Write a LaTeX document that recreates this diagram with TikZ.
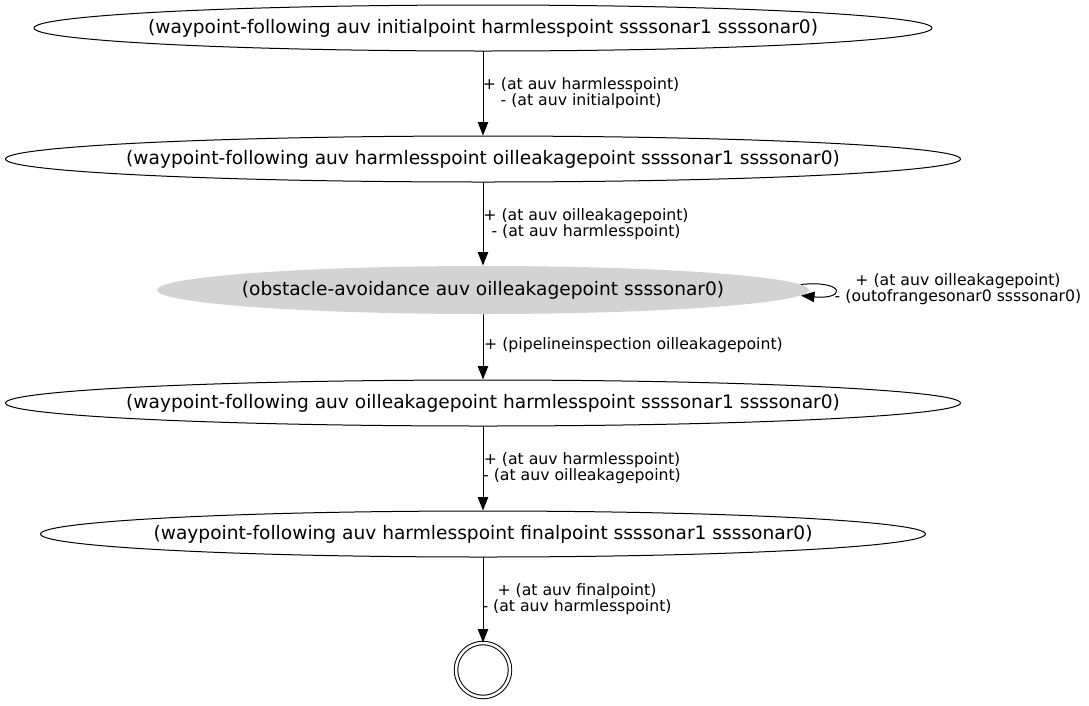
\documentclass[tikz,border=0pt]{standalone}
\usepackage{fontspec}
\setmainfont{DejaVu Sans}
\usetikzlibrary{arrows.meta, shapes.geometric}

\newcommand{\statetxt}[1]{\makebox[0pt]{#1}}

\begin{document}
\begin{tikzpicture}[x=1pt, y=-1pt, line cap=round, line join=round,
    state/.style={ellipse, draw, line width=1pt, inner sep=0pt,
        minimum height=46pt, font=\fontsize{18.6}{22}\selectfont},
    curstate/.style={state, draw=none, fill={rgb,255:red,211;green,211;blue,211}},
    trans/.style={-{Triangle[length=13.5pt, width=10.5pt]}, line width=1pt},
    effect/.style={align=center, inner sep=0pt, font=\fontsize{15.7}{16.5}\selectfont}]

    \useasboundingbox (0,0) rectangle (1089,705);

    % Estados del plan
    \node[state, minimum width=898pt] (s0) at (483,28)
        {\statetxt{(waypoint-following auv initialpoint harmlesspoint ssssonar1 ssssonar0)}};
    \node[state, minimum width=955pt] (s1) at (483,159)
        {\statetxt{(waypoint-following auv harmlesspoint oilleakagepoint ssssonar1 ssssonar0)}};
    \node[curstate, minimum width=652pt, minimum height=48pt] (s2) at (483,290)
        {\statetxt{(obstacle-avoidance auv oilleakagepoint ssssonar0)}};
    \node[state, minimum width=955pt] (s3) at (483,403)
        {\statetxt{(waypoint-following auv oilleakagepoint harmlesspoint ssssonar1 ssssonar0)}};
    \node[state, minimum width=885pt] (s4) at (483,534)
        {\statetxt{(waypoint-following auv harmlesspoint finalpoint ssssonar1 ssssonar0)}};

    % Estado final
    \node[circle, draw, double, line width=1pt, double distance=2.5pt,
        minimum size=54pt, inner sep=0pt] (goal) at (483,670) {};

    % Transiciones
    \draw[trans] (s0) -- (s1);
    \node[effect] (e0) at (581,93)
        {+ (at auv harmlesspoint)\\- (at auv initialpoint)};

    \draw[trans] (s1) -- (s2);
    \node[effect] (e1) at (586,224)
        {+ (at auv oilleakagepoint)\\- (at auv harmlesspoint)};

    % Bucle sobre el estado actual
    \draw[trans] (s2.1.5) .. controls (846,280) and (846,300) .. (s2.-1.6);
    \node[effect] (e2) at (958,289)
        {+ (at auv oilleakagepoint)\\- (outofrangesonar0 ssssonar0)};

    \draw[trans] (s2) -- (s3);
    \node[effect, anchor=west] (e3) at (484,345)
        {+ (pipelineinspection oilleakagepoint)};

    \draw[trans] (s3) -- (s4);
    \node[effect] (e4) at (582,468)
        {+ (at auv harmlesspoint)\\- (at auv oilleakagepoint)};

    \draw[trans] (s4) -- (goal);
    \node[effect] (e5) at (577,599)
        {+ (at auv finalpoint)\\- (at auv harmlesspoint)};

\end{tikzpicture}
\end{document}
